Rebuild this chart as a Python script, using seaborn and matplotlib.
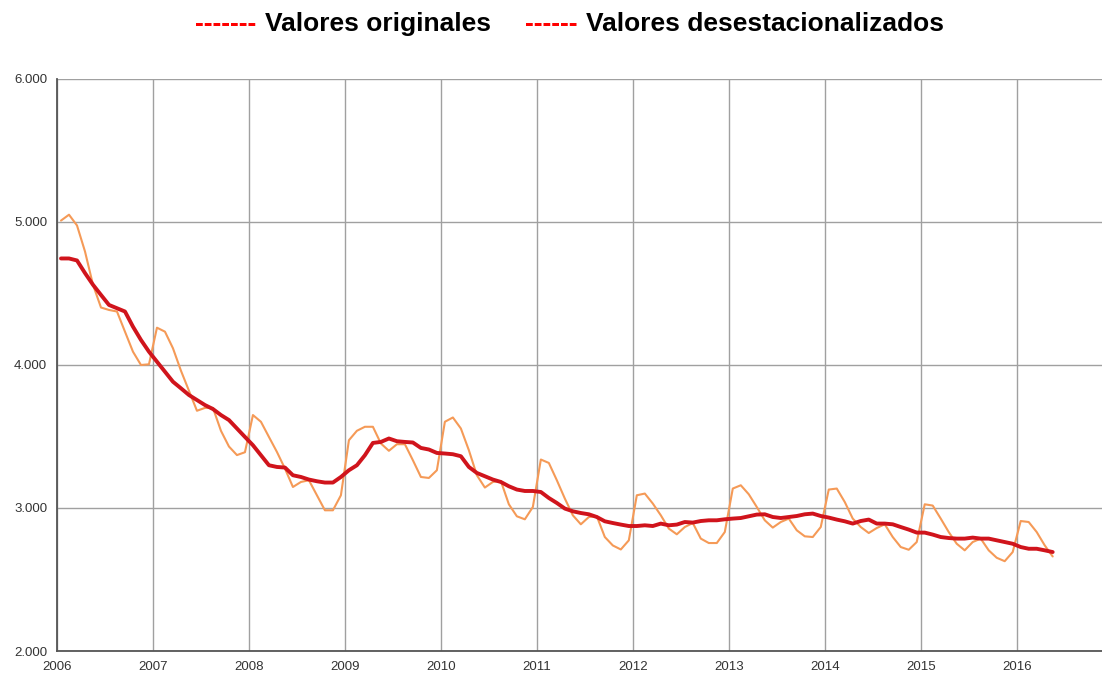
import numpy as np
import pandas as pd
import seaborn as sns
import matplotlib
matplotlib.use("Agg")
import matplotlib.pyplot as plt

# ---------------- data (monthly, Jan 2006 - May 2016) ----------------
start_year = 2006
originales = [
    5010, 5051, 4976, 4794, 4561, 4402, 4385, 4374, 4233, 4093, 4000, 4005,   # 2006
    4261, 4233, 4117, 3960, 3820, 3680, 3700, 3700, 3540, 3430, 3370, 3390,   # 2007
    3650, 3603, 3497, 3392, 3276, 3147, 3182, 3194, 3089, 2984, 2984, 3089,   # 2008
    3474, 3540, 3568, 3568, 3451, 3400, 3446, 3446, 3334, 3217, 3210, 3264,   # 2009
    3603, 3633, 3556, 3404, 3229, 3143, 3182, 3189, 3026, 2942, 2921, 3007,   # 2010
    3339, 3315, 3194, 3066, 2949, 2886, 2937, 2942, 2797, 2738, 2710, 2774,   # 2011
    3089, 3101, 3031, 2949, 2856, 2816, 2867, 2895, 2786, 2755, 2755, 2832,   # 2012
    3136, 3159, 3096, 3007, 2914, 2863, 2902, 2926, 2844, 2802, 2797, 2867,   # 2013
    3129, 3136, 3042, 2926, 2867, 2825, 2860, 2886, 2797, 2727, 2708, 2762,   # 2014
    3026, 3017, 2926, 2832, 2750, 2704, 2762, 2786, 2704, 2652, 2628, 2692,   # 2015
    2909, 2902, 2832, 2739, 2661,                                             # 2016
]
desestacionalizados = [
    4745, 4745, 4731, 4643, 4561, 4490, 4420, 4397, 4374, 4268, 4175, 4093,   # 2006
    4023, 3953, 3883, 3837, 3790, 3755, 3720, 3692, 3650, 3615, 3556, 3497,   # 2007
    3439, 3369, 3299, 3287, 3283, 3229, 3217, 3199, 3187, 3178, 3178, 3217,   # 2008
    3264, 3299, 3369, 3455, 3462, 3486, 3467, 3462, 3458, 3420, 3409, 3385,   # 2009
    3381, 3376, 3362, 3287, 3245, 3222, 3199, 3182, 3152, 3129, 3119, 3119,   # 2010
    3112, 3070, 3035, 2996, 2977, 2965, 2956, 2937, 2907, 2895, 2884, 2874,   # 2011
    2874, 2879, 2874, 2891, 2879, 2884, 2902, 2898, 2909, 2914, 2914, 2921,   # 2012
    2926, 2930, 2942, 2954, 2956, 2937, 2930, 2937, 2944, 2956, 2961, 2944,   # 2013
    2933, 2919, 2907, 2891, 2909, 2919, 2891, 2891, 2886, 2867, 2849, 2828,   # 2014
    2828, 2814, 2797, 2790, 2786, 2786, 2793, 2786, 2786, 2774, 2762, 2750,   # 2015
    2727, 2715, 2715, 2704, 2692,                                             # 2016
]
x_years = list(range(2006, 2017))
y_ticks = [2000, 3000, 4000, 5000, 6000]
y_labels = ["2.000", "3.000", "4.000", "5.000", "6.000"]
label_orig = "Valores originales"
label_des = "Valores desestacionalizados"

# ---------------- plot ----------------
sns.set_theme(style="white")
plt.rcParams['font.family'] = ['Liberation Sans', 'DejaVu Sans']

n = len(originales)
t = start_year + (np.arange(n) + 0.5) / 12.0
df = pd.DataFrame({"t": t, "orig": originales, "des": desestacionalizados})

W, H = 1102, 675
fig = plt.figure(figsize=(W / 100, H / 100), dpi=100)
ax = fig.add_axes([57 / W, 1 - 651 / H, 1 - 57 / W, (651 - 79) / H])

sns.lineplot(data=df, x="t", y="orig", color="#f59a57", lw=1.5, ax=ax)
sns.lineplot(data=df, x="t", y="des", color="#d0141c", lw=2.8, ax=ax)

ax.set_xlim(2006, 2006 + (W - 57) / 95.97)
ax.set_ylim(2000, 6000)
ax.set_xticks(x_years)
ax.set_xticklabels([str(y) for y in x_years])
ax.set_yticks(y_ticks)
ax.set_yticklabels(y_labels)
ax.set_xlabel("")
ax.set_ylabel("")
ax.grid(True, color="#a0a0a0", lw=1.0)
ax.set_axisbelow(True)
for s in ["top", "right"]:
    ax.spines[s].set_visible(False)
for s in ["left", "bottom"]:
    ax.spines[s].set_color("#555555")
    ax.spines[s].set_linewidth(1.3)
ax.tick_params(axis="both", length=0, labelsize=9.5, colors="#333333")
ax.tick_params(axis="y", pad=7)
ax.tick_params(axis="x", pad=7)

# legend (text-style, as in reference)
ly = 1 - 24 / H
fig.text(195 / W, ly, "-------", color="#ff0000", fontsize=19, fontweight="bold", va="center", ha="left")
fig.text(265 / W, ly, label_orig, color="black", fontsize=19, fontweight="bold", va="center", ha="left")
fig.text(525 / W, ly, "------", color="#ff0000", fontsize=19, fontweight="bold", va="center", ha="left")
fig.text(586 / W, ly, label_des, color="black", fontsize=19, fontweight="bold", va="center", ha="left")

fig.savefig("out.png", dpi=100)
